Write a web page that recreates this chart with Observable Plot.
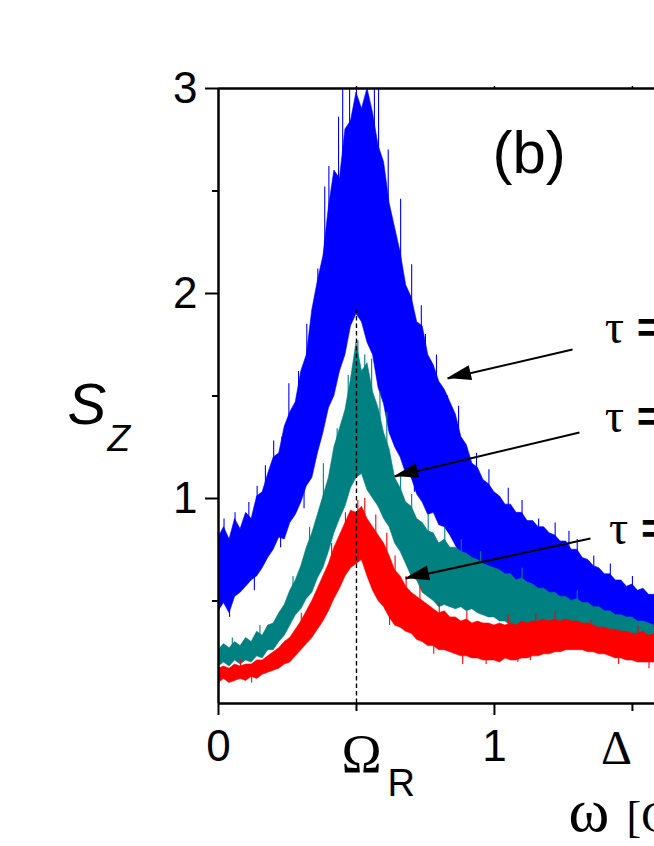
<!DOCTYPE html>
<html><head><meta charset="utf-8">
<script src="https://cdn.jsdelivr.net/npm/d3@7"></script>
<script src="https://cdn.jsdelivr.net/npm/@observablehq/plot@0.6"></script>
<style>
html,body{margin:0;padding:0;background:#fff;overflow:hidden;}
#chart svg{display:block;}
</style></head><body><div id="chart"></div>
<script>
// frequency grid (omega, in units used on the x axis)
const omega = [0,0.02,0.04,0.06,0.08,0.1,0.12,0.14,0.16,0.18,0.2,0.22,0.24,0.26,0.28,0.3,0.32,0.34,0.36,0.38,
0.4,0.42,0.44,0.46,0.48,0.5,0.52,0.54,0.56,0.58,0.6,0.62,0.64,0.66,0.68,0.7,0.72,0.74,0.76,0.78,
0.8,0.82,0.84,0.86,0.88,0.9,0.92,0.94,0.96,0.98,1,1.02,1.04,1.06,1.08,1.1,1.12,1.14,1.16,1.18,
1.2,1.22,1.24,1.26,1.28,1.3,1.32,1.34,1.36,1.38,1.4,1.42,1.44,1.46,1.48,1.5,1.52,1.54,1.56,1.58];

// blue series: lower / upper edge of the noisy band
const blueLo = [0.45,0.49,0.44,0.52,0.54,0.57,0.60,0.62,0.66,0.71,0.75,0.81,0.80,0.88,0.92,0.98,1.06,1.10,1.22,1.32,
1.44,1.50,1.62,1.70,1.84,1.90,1.86,1.76,1.70,1.54,1.46,1.32,1.25,1.20,1.12,1.10,1.02,0.98,0.92,0.93,
0.87,0.86,0.82,0.77,0.72,0.67,0.64,0.61,0.60,0.57,0.56,0.54,0.53,0.52,0.50,0.50,0.48,0.47,0.45,0.44,
0.42,0.42,0.41,0.40,0.40,0.39,0.38,0.37,0.36,0.36,0.35,0.34,0.33,0.33,0.32,0.31,0.30,0.30,0.29,0.28];
const blueHi = [0.81,0.86,0.80,0.90,0.85,0.93,0.90,1.01,1.03,1.12,1.20,1.22,1.35,1.42,1.47,1.62,1.70,1.92,2.06,2.18,
2.42,2.60,2.56,2.80,2.84,2.98,2.90,3.00,2.88,2.72,2.64,2.44,2.32,2.20,2.04,1.98,1.86,1.84,1.70,1.65,
1.57,1.53,1.47,1.41,1.30,1.26,1.17,1.15,1.09,1.07,1.03,1.01,0.97,0.97,0.93,0.93,0.89,0.89,0.86,0.86,
0.83,0.82,0.79,0.79,0.75,0.75,0.71,0.70,0.67,0.66,0.63,0.63,0.60,0.60,0.57,0.58,0.55,0.56,0.53,0.53];

// teal series
const tealLo = [0.18,0.20,0.18,0.21,0.19,0.21,0.20,0.23,0.22,0.26,0.26,0.30,0.33,0.38,0.43,0.46,0.51,0.54,0.61,0.66,
0.74,0.83,0.90,0.96,1.05,1.10,1.12,1.04,1.00,0.96,0.90,0.86,0.78,0.74,0.68,0.62,0.60,0.54,0.52,0.50,
0.47,0.48,0.47,0.46,0.47,0.45,0.46,0.44,0.43,0.42,0.42,0.40,0.40,0.38,0.38,0.37,0.37,0.35,0.35,0.34,
0.34,0.33,0.32,0.32,0.31,0.31,0.30,0.29,0.29,0.28,0.28,0.27,0.27,0.26,0.26,0.26,0.25,0.25,0.25,0.24];
const tealHi = [0.26,0.29,0.27,0.30,0.28,0.32,0.30,0.35,0.33,0.38,0.39,0.44,0.48,0.55,0.60,0.67,0.76,0.83,0.92,1.01,
1.10,1.25,1.34,1.43,1.58,1.76,1.62,1.66,1.52,1.44,1.32,1.24,1.10,1.05,0.98,0.96,0.90,0.88,0.84,0.83,
0.78,0.80,0.76,0.76,0.74,0.73,0.71,0.70,0.68,0.67,0.66,0.65,0.63,0.63,0.60,0.61,0.59,0.58,0.56,0.56,
0.54,0.54,0.52,0.52,0.50,0.51,0.49,0.49,0.47,0.47,0.45,0.45,0.43,0.43,0.42,0.42,0.40,0.40,0.39,0.38];

// red series
const redLo = [0.10,0.12,0.10,0.11,0.12,0.11,0.13,0.12,0.14,0.15,0.16,0.17,0.19,0.20,0.23,0.26,0.29,0.32,0.36,0.40,
0.45,0.51,0.56,0.62,0.66,0.68,0.70,0.62,0.55,0.50,0.47,0.42,0.38,0.37,0.35,0.34,0.31,0.30,0.28,0.28,
0.26,0.26,0.25,0.24,0.23,0.23,0.22,0.22,0.21,0.21,0.21,0.20,0.22,0.21,0.21,0.22,0.22,0.23,0.23,0.24,
0.24,0.25,0.25,0.26,0.26,0.26,0.26,0.25,0.25,0.24,0.24,0.23,0.22,0.22,0.21,0.21,0.20,0.20,0.20,0.20];
const redHi = [0.17,0.18,0.17,0.19,0.18,0.19,0.19,0.21,0.21,0.23,0.25,0.27,0.30,0.32,0.36,0.40,0.45,0.50,0.56,0.62,
0.68,0.76,0.82,0.88,0.94,0.93,0.96,0.90,0.86,0.82,0.78,0.72,0.65,0.62,0.57,0.54,0.52,0.50,0.48,0.46,
0.44,0.45,0.42,0.42,0.40,0.41,0.39,0.40,0.39,0.39,0.38,0.39,0.38,0.39,0.38,0.40,0.39,0.40,0.40,0.41,
0.40,0.41,0.40,0.41,0.40,0.40,0.39,0.39,0.38,0.37,0.37,0.36,0.36,0.35,0.35,0.34,0.34,0.35,0.33,0.34];

// isolated noise spikes (and dips)
const blueSpikeX    = [0.02,0.06,0.11,0.14,0.17,0.20,0.23,0.255,0.29,0.32,0.36,0.385,0.40,0.435,0.45,0.475,0.50,0.565,0.58,0.615,0.66,0.70,0.735,0.75,0.79,0.83,0.87,0.935,0.98,1.05,1.10,1.16,1.22,1.27,1.30,1.36,1.42,1.50,
                       0.04,0.13,0.225,0.31,0.71];
const blueSpikeFrom = [0.70,0.70,0.75,0.80,0.85,0.95,1.00,1.10,1.20,1.40,1.60,1.80,1.90,2.10,2.20,2.30,2.40,2.40,2.30,2.10,1.80,1.60,1.40,1.50,1.40,1.10,1.20,0.90,0.90,0.85,0.80,0.60,0.70,0.65,0.55,0.50,0.50,0.45,
                       0.60,0.70,0.95,1.20,1.30];
const blueSpikeTo   = [0.90,0.93,0.98,1.06,1.16,1.28,1.30,1.56,1.62,1.85,2.12,2.52,2.62,2.86,3.00,3.00,3.00,3.00,3.00,2.70,2.46,2.14,1.94,1.80,1.70,1.50,1.45,1.22,1.14,1.05,0.99,0.90,0.88,0.84,0.80,0.72,0.68,0.62,
                       0.42,0.55,0.76,0.95,1.03];
const tealSpikeX    = [0.05,0.15,0.27,0.33,0.38,0.43,0.47,0.505,0.53,0.555,0.585,0.61,0.66,0.70,0.76,0.82,0.88,0.95,1.10,1.30];
const tealSpikeFrom = [0.22,0.26,0.45,0.65,0.80,1.00,1.20,1.30,1.30,1.20,1.10,1.00,0.85,0.75,0.65,0.60,0.55,0.50,0.45,0.40];
const tealSpikeTo   = [0.32,0.38,0.62,0.86,1.17,1.34,1.60,1.77,1.70,1.68,1.52,1.42,1.12,1.02,0.92,0.86,0.80,0.74,0.66,0.55];
const redSpikeX     = [0.08,0.30,0.41,0.46,0.505,0.53,0.57,0.61,0.64,0.68,0.73,0.80,0.90,1.05,1.15,1.22,1.35,1.52,
                       0.12,0.62,0.78,0.885,0.97,1.085,1.13,1.45,1.56];
const redSpikeFrom  = [0.14,0.32,0.60,0.75,0.80,0.80,0.70,0.60,0.50,0.45,0.40,0.35,0.30,0.30,0.30,0.30,0.30,0.28,
                       0.15,0.55,0.35,0.30,0.30,0.30,0.30,0.28,0.26];
const redSpikeTo    = [0.21,0.44,0.78,0.93,0.99,1.00,0.92,0.83,0.72,0.62,0.57,0.49,0.45,0.43,0.44,0.45,0.41,0.38,
                       0.10,0.38,0.24,0.19,0.19,0.20,0.21,0.19,0.17];

// axes
const yMajor = [1, 2, 3];
const yMinor = [0.5, 1.5, 2.5];
const xNumTicks = [0, 1];
const xNumLabels = ["0", "1"];
const xSymTicks = [0.5, 1.5];   // Omega_R and Delta
const omegaR = [0.5];
const delta = [1.5];
const dashedTop = [1.92];

// annotations
const tauX = [1.40, 1.40, 1.415];
const tauY = [1.76, 1.322, 0.78];
const arrowX1 = [1.283, 1.308, 1.348];
const arrowY1 = [1.727, 1.322, 0.805];
const arrowX2 = [0.830, 0.638, 0.678];
const arrowY2 = [1.585, 1.107, 0.610];

const SANS = "Arial, 'Liberation Sans', sans-serif";
const SERIF = "'Times New Roman', 'Liberation Serif', serif";
const BLUE = "#0000ff", TEAL = "#008080", RED = "#ff0000";

function band(lo, hi, color) {
  return Plot.areaY(omega, {x: omega, y1: lo, y2: hi, fill: color, stroke: color, strokeWidth: 0.6, curve: "linear", clip: true});
}
function spikes(xs, from, to, color) {
  return Plot.ruleX(xs, {x: xs, y1: from, y2: to, stroke: color, strokeWidth: 1.1, clip: true});
}

const plot = Plot.plot({
  width: 654, height: 846,
  marginLeft: 218, marginRight: 0, marginTop: 88, marginBottom: 143,
  x: {domain: [0, 1.58], axis: null},
  y: {domain: [0, 3], axis: null},
  style: {background: "white", fontFamily: SANS, color: "black"},
  marks: [
    band(blueLo, blueHi, BLUE),
    spikes(blueSpikeX, blueSpikeFrom, blueSpikeTo, BLUE),
    band(tealLo, tealHi, TEAL),
    spikes(tealSpikeX, tealSpikeFrom, tealSpikeTo, TEAL),
    band(redLo, redHi, RED),
    spikes(redSpikeX, redSpikeFrom, redSpikeTo, RED),
    Plot.ruleX(omegaR, {x: omegaR, y1: 0, y2: dashedTop, stroke: "black", strokeWidth: 1.4, strokeDasharray: "4.5,3"}),
    // frame
    Plot.ruleX([0], {stroke: "black", strokeWidth: 2.5}),
    Plot.ruleY([0], {stroke: "black", strokeWidth: 2.5}),
    Plot.ruleY([3], {stroke: "black", strokeWidth: 2.5}),
    // ticks
    Plot.axisY({ticks: yMajor, tickSize: 13, tickPadding: 8, tickFormat: d => String(d), fontSize: 44, strokeWidth: 2, label: null, anchor: "left"}),
    Plot.axisY({ticks: yMinor, tickSize: 6, tickFormat: () => "", strokeWidth: 2, label: null, anchor: "left"}),
    Plot.axisX({ticks: xNumTicks, tickSize: 12, tickFormat: () => "", strokeWidth: 2, label: null, anchor: "bottom"}),
    Plot.axisX({ticks: xSymTicks, tickSize: 8, tickFormat: () => "", strokeWidth: 2, label: null, anchor: "bottom"}),
    Plot.axisX({ticks: [0.5, 1, 1.5], tickSize: 3, tickFormat: () => "", strokeWidth: 1.5, label: null, anchor: "top"}),
    // x tick labels
    Plot.text(xNumTicks, {x: xNumTicks, y: 0, text: xNumLabels, dy: 57, lineAnchor: "bottom", fontSize: 44}),
    Plot.text(omegaR, {x: omegaR, y: 0, text: ["Ω"], dx: 5, dy: 68, lineAnchor: "bottom", fontSize: 54, fontFamily: SERIF}),
    Plot.text(omegaR, {x: omegaR, y: 0, text: ["R"], dx: 31, dy: 92, lineAnchor: "bottom", textAnchor: "start", fontSize: 38}),
    Plot.text(delta, {x: delta, y: 0, text: ["Δ"], dx: -16, dy: 60, lineAnchor: "bottom", fontSize: 48, fontFamily: SERIF}),
    // x axis title (cropped on the right)
    Plot.text(["ω"], {frameAnchor: "bottom-left", text: ["ω"], dx: 350, dy: 127, lineAnchor: "bottom", textAnchor: "start", fontSize: 62, fontFamily: SERIF}),
    Plot.text(["[GHz]"], {frameAnchor: "bottom-left", text: ["[GHz]"], dx: 408, dy: 128, lineAnchor: "bottom", textAnchor: "start", fontSize: 44, fontFamily: SERIF}),
    // y axis title
    Plot.text(["S"], {frameAnchor: "left", text: ["S"], dx: -151, dy: 27.5, lineAnchor: "bottom", textAnchor: "start", fontSize: 58, fontStyle: "italic"}),
    Plot.text(["Z"], {frameAnchor: "left", text: ["Z"], dx: -111, dy: 54.5, lineAnchor: "bottom", textAnchor: "start", fontSize: 37, fontStyle: "italic"}),
    // panel label
    Plot.text(["(b)"], {x: [0.993], y: [2.59], text: ["(b)"], lineAnchor: "bottom", textAnchor: "start", fontSize: 60}),
    // tau labels
    Plot.text(tauX, {x: tauX, y: tauY, text: tauX.map(() => "τ"), lineAnchor: "bottom", textAnchor: "start", fontSize: 48, fontFamily: SERIF}),
    Plot.text(tauX, {x: tauX, y: tauY, text: tauX.map(() => "="), dx: 32, lineAnchor: "bottom", textAnchor: "start", fontSize: 44, fontWeight: "bold"}),
    // arrow shafts
    Plot.link(arrowX1, {x1: arrowX1, y1: arrowY1, x2: arrowX2, y2: arrowY2, stroke: "black", strokeWidth: 2})
  ]
});

document.getElementById("chart").appendChild(plot);

// filled arrow heads, positioned through the plot's own scales
const sxs = plot.scale("x"), sys = plot.scale("y");
const svg = d3.select(plot);
for (let i = 0; i < arrowX1.length; i++) {
  const ax = sxs.apply(arrowX1[i]), ay = sys.apply(arrowY1[i]);
  const tx = sxs.apply(arrowX2[i]), ty = sys.apply(arrowY2[i]);
  const ddx = tx - ax, ddy = ty - ay, len = Math.hypot(ddx, ddy);
  const ux = ddx / len, uy = ddy / len;
  const L = 24, w = 7.5;
  const bx = tx - L * ux, by = ty - L * uy;
  const pts = [[tx, ty], [bx - w * uy, by + w * ux], [bx + w * uy, by - w * ux]];
  svg.append("polygon").attr("points", pts.map(p => p.join(",")).join(" ")).attr("fill", "black");
}
</script>
</body></html>
